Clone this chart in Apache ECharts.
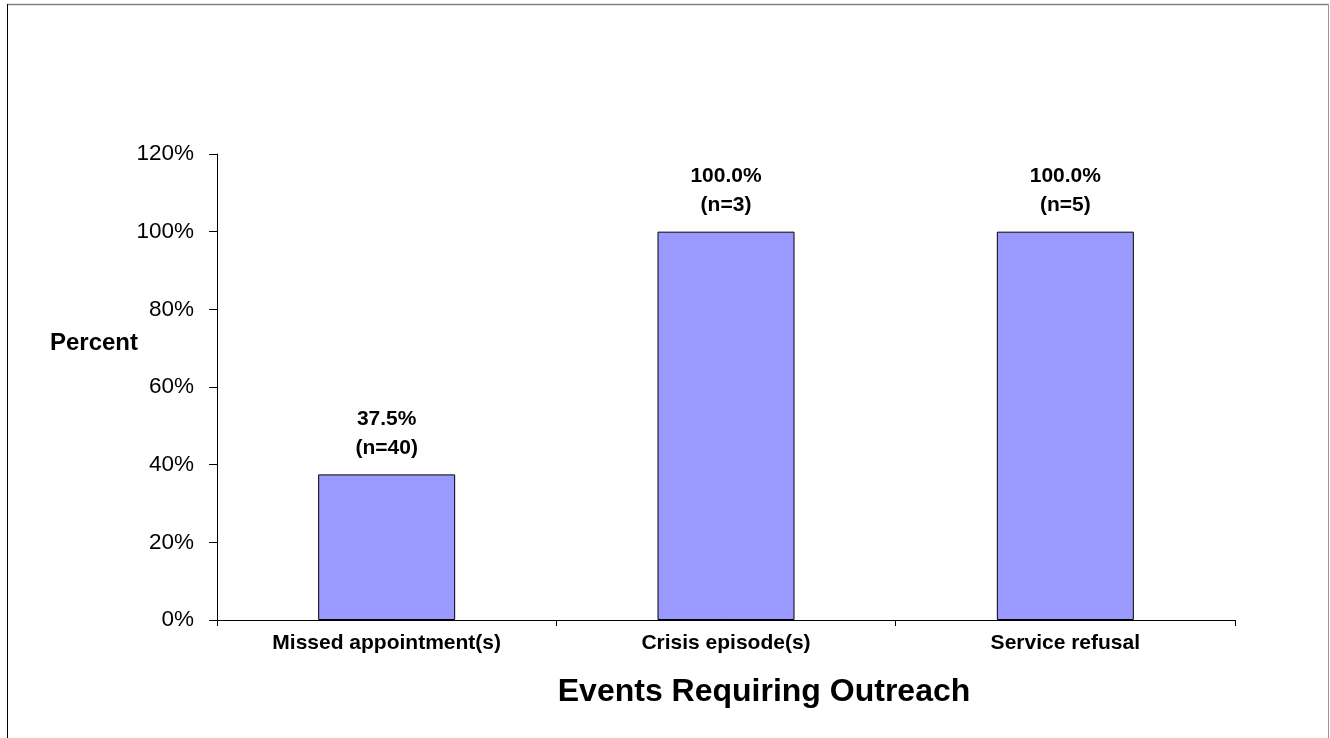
<!DOCTYPE html>
<html>
<head>
<meta charset="utf-8">
<script src="https://cdn.jsdelivr.net/npm/echarts@6/dist/echarts.min.js"></script>
<style>
  html, body { margin: 0; padding: 0; background: #fff; }
  #chart { width: 1330px; height: 738px; }
</style>
</head>
<body>
<div id="chart"></div>
<script>
// Share of events that required outreach, by event type
const categories = ['Missed appointment(s)', 'Crisis episode(s)', 'Service refusal'];
const percents = [37.5, 100.0, 100.0];
const counts = [40, 3, 5];
const yTicks = [0, 20, 40, 60, 80, 100, 120];

const FONT = 'Arial, "Liberation Sans", Helvetica, sans-serif';

const chart = echarts.init(document.getElementById('chart'), null, { renderer: 'canvas' });

chart.setOption({
  backgroundColor: '#ffffff',
  animation: false,
  grid: { left: 217, top: 154, right: 95, bottom: 118, containLabel: false },
  xAxis: {
    type: 'category',
    data: categories,
    axisLine: { lineStyle: { color: '#000', width: 1 } },
    axisTick: { show: true, length: 6, alignWithLabel: false, lineStyle: { color: '#000' } },
    axisLabel: {
      color: '#000', fontFamily: FONT, fontWeight: 'bold', fontSize: 21, margin: 13
    }
  },
  yAxis: {
    type: 'value',
    min: yTicks[0],
    max: yTicks[yTicks.length - 1],
    interval: yTicks[1] - yTicks[0],
    axisLine: { show: true, lineStyle: { color: '#000', width: 1 } },
    axisTick: { show: true, length: 8, lineStyle: { color: '#000' } },
    splitLine: { show: false },
    axisLabel: {
      color: '#000', fontFamily: FONT, fontSize: 22.5, margin: 23,
      formatter: v => v + '%'
    }
  },
  graphic: [
    // page frame
    { type: 'line', shape: { x1: 7, y1: 4.5, x2: 1329, y2: 4.5 }, style: { stroke: '#808080', lineWidth: 1.5 } },
    { type: 'line', shape: { x1: 7.5, y1: 4, x2: 7.5, y2: 738 }, style: { stroke: '#000', lineWidth: 1 } },
    { type: 'line', shape: { x1: 1328.5, y1: 4, x2: 1328.5, y2: 738 }, style: { stroke: '#999', lineWidth: 1 } },
    // vertical axis title
    {
      type: 'text', x: 138, y: 343,
      style: {
        text: 'Percent', fill: '#000',
        font: 'bold 24px ' + FONT,
        align: 'right', verticalAlign: 'middle'
      }
    },
    // horizontal axis title
    {
      type: 'text', x: 764, y: 692,
      style: {
        text: 'Events Requiring Outreach', fill: '#000',
        font: 'bold 32px ' + FONT,
        align: 'center', verticalAlign: 'middle'
      }
    }
  ],
  series: [{
    type: 'bar',
    data: percents,
    barWidth: 137,
    itemStyle: { color: '#9999FF', borderColor: '#000', borderWidth: 1 },
    label: {
      show: true,
      position: 'top',
      distance: 12,
      color: '#000',
      fontFamily: FONT,
      fontWeight: 'bold',
      fontSize: 21,
      lineHeight: 29,
      align: 'center',
      formatter: p => p.value.toFixed(1) + '%\n(n=' + counts[p.dataIndex] + ')'
    }
  }]
});
</script>
</body>
</html>
